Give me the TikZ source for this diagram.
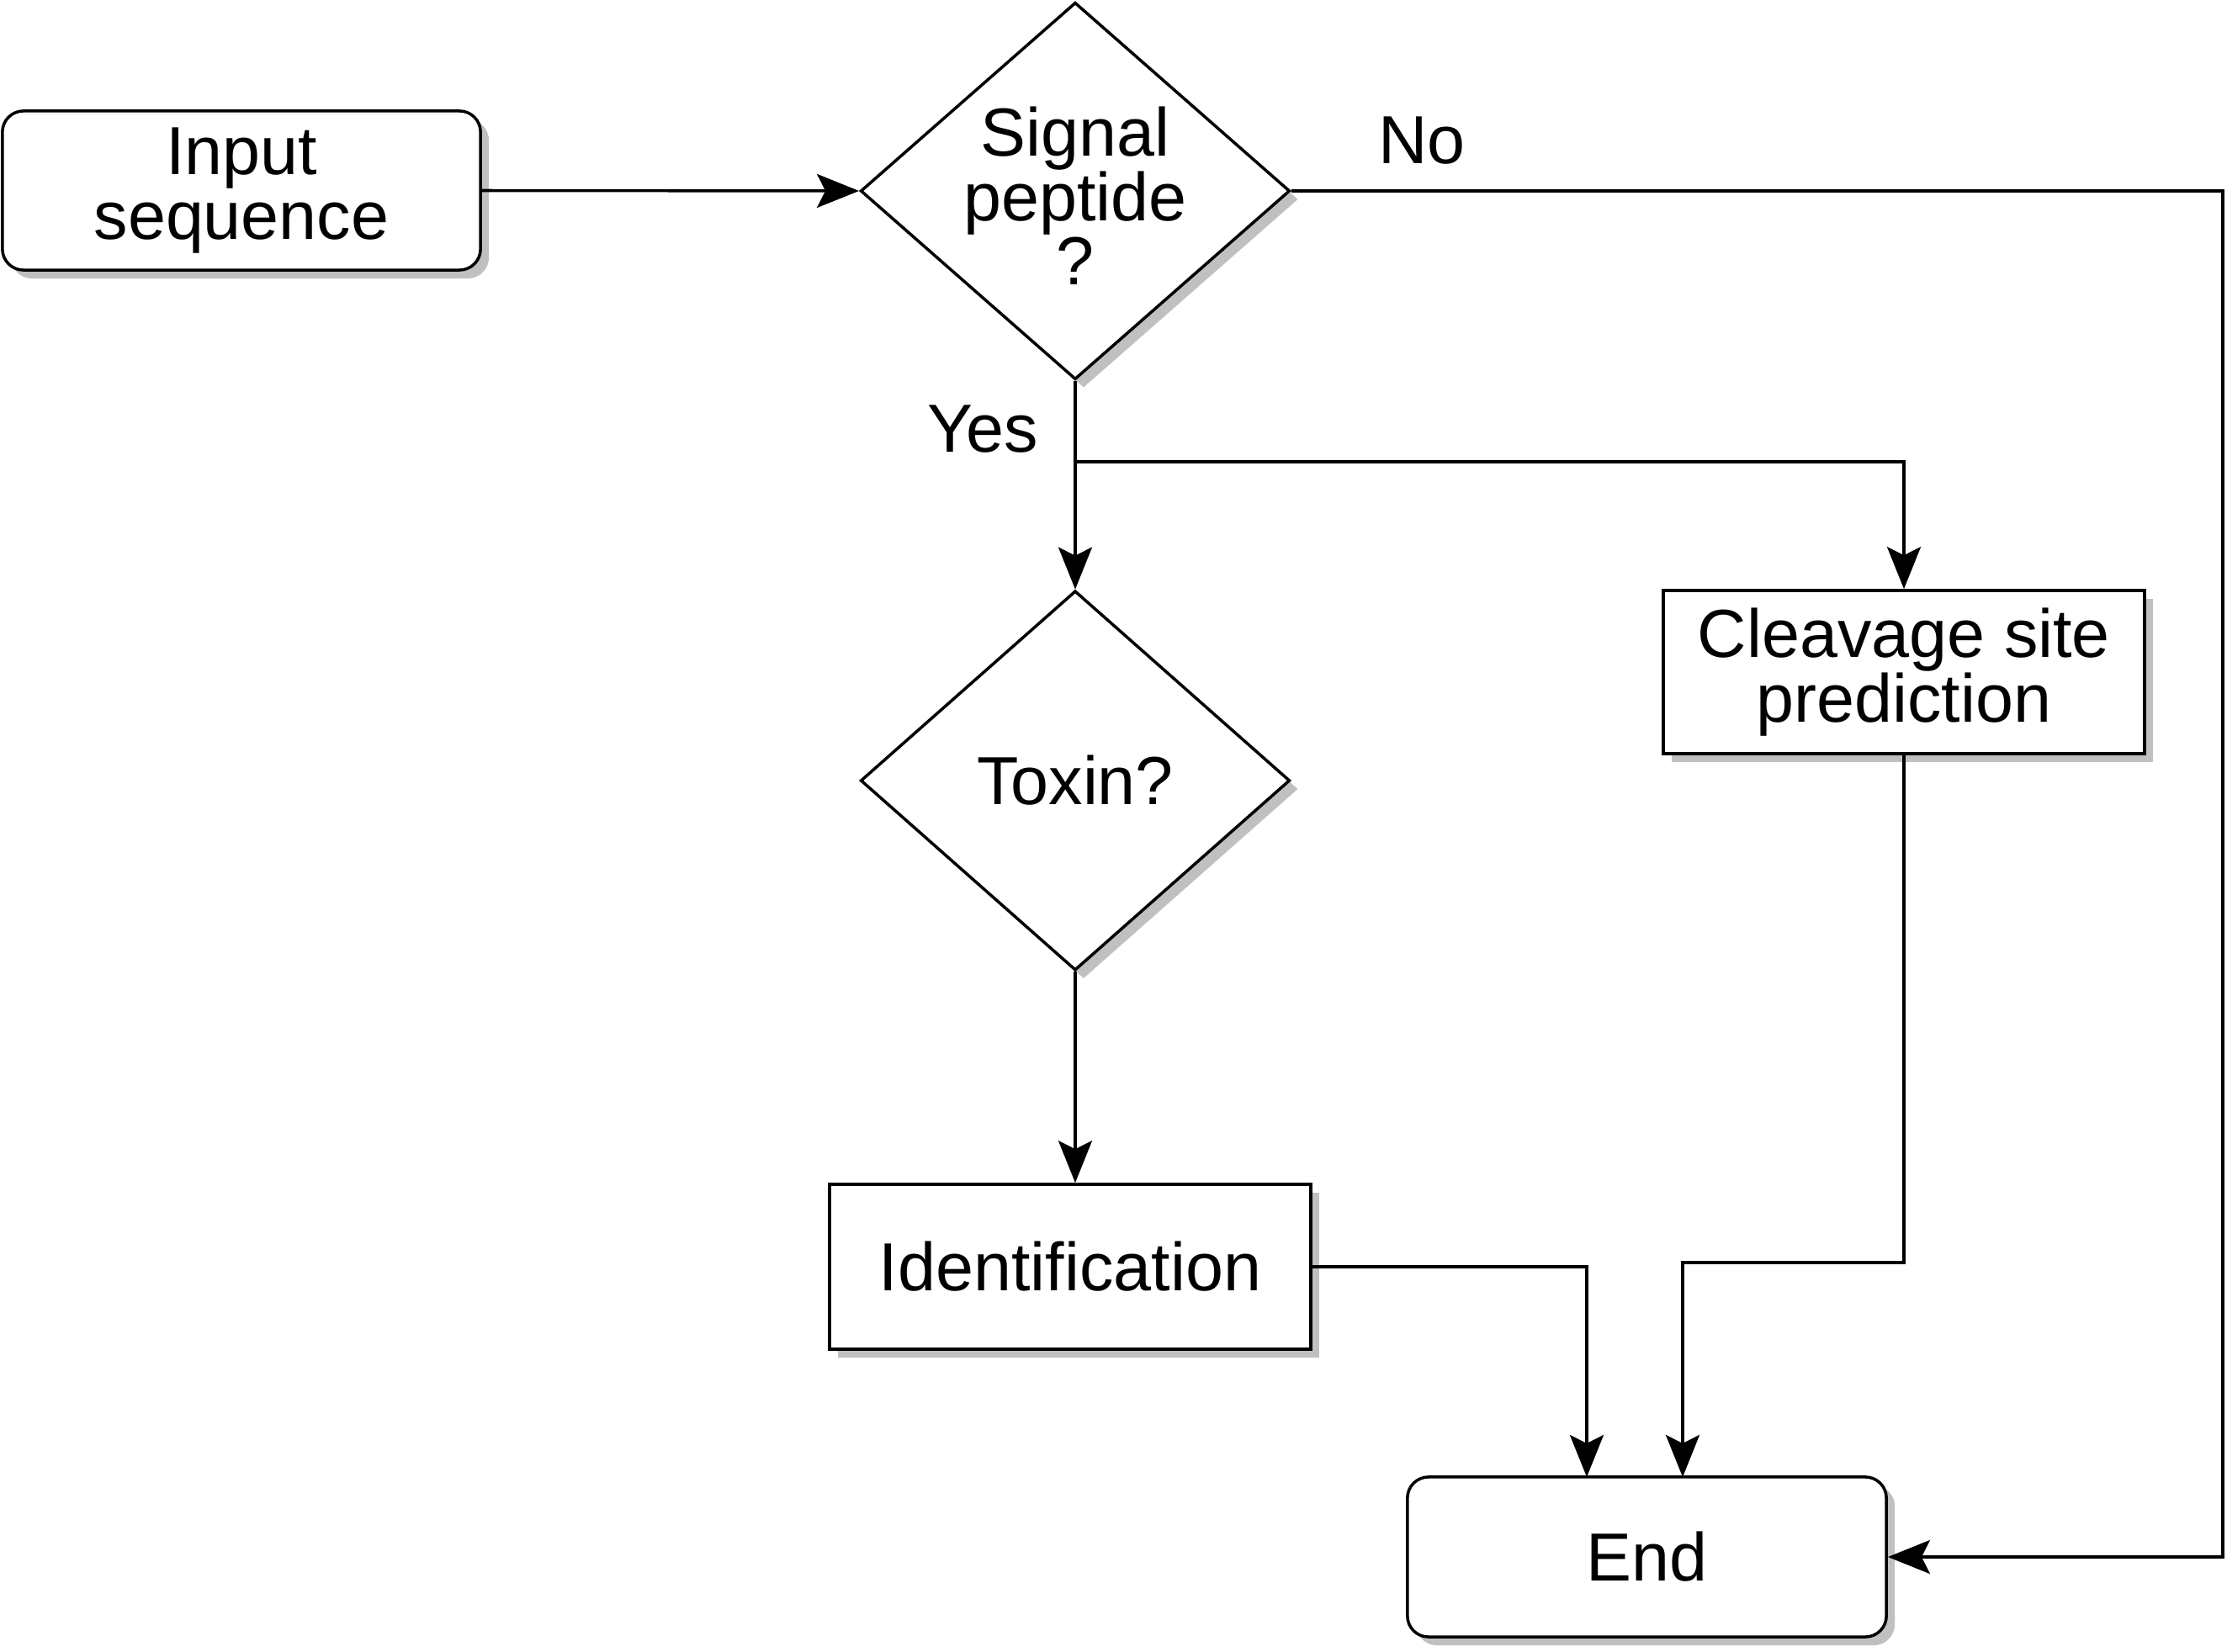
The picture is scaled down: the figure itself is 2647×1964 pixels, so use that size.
\documentclass[tikz,border=0pt]{standalone}
\usepackage{fontspec}
\setmainfont{Liberation Sans}
\usetikzlibrary{arrows.meta,shapes.geometric,shadows}
\definecolor{shadowgray}{RGB}{192,192,192}
\tikzset{
  lbl/.style={font=\fontsize{23pt}{21.8pt}\selectfont, align=center, inner sep=0pt},
  shd/.style={drop shadow={shadow xshift=0.1cm, shadow yshift=-0.1cm, fill=shadowgray, opacity=1}},
  base/.style={draw=black, line width=1pt, fill=white, shd, lbl},
  roundbox/.style={base, rectangle, rounded corners=0.25cm},
  sqbox/.style={base, rectangle},
  decision/.style={base, diamond, inner sep=0pt},
  arr/.style={draw=black, line width=1pt, -{Stealth[length=0.5cm, width=0.4cm, inset=0.1cm]}},
  conn/.style={draw=black, line width=1pt}
}
\begin{document}
\begin{tikzpicture}[x=0.01cm, y=-0.01cm]
\useasboundingbox (0,0) rectangle (2647,1964);
\node[roundbox, minimum width=5.68cm, minimum height=1.89cm] (inp) at (287,226.5) {Input\\sequence};
\node[decision, minimum width=5.10cm, minimum height=4.48cm] (sig) at (1278,227) {};
\node[lbl] (sigt) at (1278,233) {Signal\\peptide\\?};
\node[decision, minimum width=5.10cm, minimum height=4.51cm] (tox) at (1278,928) {};
\node[lbl] (toxt) at (tox.center) {Toxin?};
\node[sqbox, minimum width=5.72cm, minimum height=1.94cm] (clv) at (2263,799) {Cleavage site\\prediction};
\node[sqbox, minimum width=5.72cm, minimum height=1.96cm] (idn) at (1272,1506) {Identification};
\node[roundbox, minimum width=5.69cm, minimum height=1.90cm] (end) at (1957.5,1851) {End};
\node[lbl] (no) at (1690,167) {No};
\node[lbl] (yes) at (1168,510) {Yes};
\coordinate (nocorner) at (2642,227);
\coordinate (br) at (1278,549);
\coordinate (e1) at (1886,1756);
\coordinate (k1) at (2000,1501);
\coordinate (e2) at (2000,1756);
\draw[arr] (inp.east) -- (sig.west);
\draw[arr] (sig.east) -- (nocorner) |- (end.east);
\draw[arr] (sig.south) -- (tox.north);
\draw[arr] (br) -| (clv.north);
\draw[arr] (tox.south) -- (tox.south |- idn.north);
\draw[arr] (idn.east) -| (e1);
\draw[arr] (clv.south) |- (k1) -- (e2);
\end{tikzpicture}
\end{document}
